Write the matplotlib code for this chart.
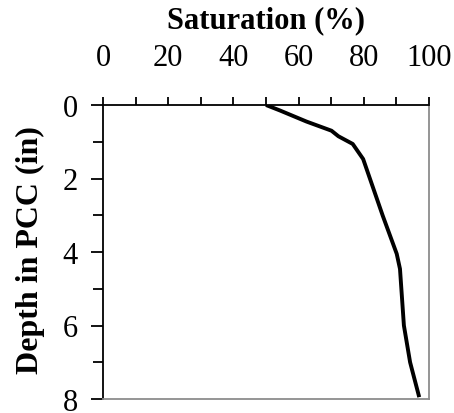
import numpy as np
import matplotlib.pyplot as plt
from matplotlib.ticker import MultipleLocator

# Dados
saturation = [50.0, 54.3, 62.4, 70.1, 72.2, 76.6, 79.8, 85.8, 90.1, 91.1, 92.3, 94.2, 97.0]
depth = [0.0, 0.15, 0.45, 0.70, 0.85, 1.06, 1.47, 3.01, 4.05, 4.46, 6.0, 7.0, 7.95]

plt.rcParams['font.family'] = ['Liberation Serif', 'DejaVu Serif']

fig = plt.figure(figsize=(4.54, 4.14), dpi=100)
ax = fig.add_axes([103 / 454, 1 - 400 / 414, 326 / 454, 294 / 414])

ax.plot(saturation, depth, color='black', linewidth=2.8, solid_capstyle='butt')

ax.set_xlim(0, 100)
ax.set_ylim(8, 0)
ax.xaxis.set_major_locator(MultipleLocator(20))
ax.xaxis.set_minor_locator(MultipleLocator(10))
ax.yaxis.set_major_locator(MultipleLocator(2))
ax.yaxis.set_minor_locator(MultipleLocator(1))

ax.xaxis.tick_top()
ax.xaxis.set_label_position('top')
ax.tick_params(axis='x', which='both', direction='out', length=6, width=1.3,
               labelsize=22, pad=18, bottom=False)
ax.tick_params(axis='y', which='major', direction='out', length=9, width=1.3,
               labelsize=22, pad=9, right=False)
ax.tick_params(axis='y', which='minor', direction='out', length=7, width=1.3,
               right=False)

ax.set_xlabel('Saturation (%)', fontsize=22, fontweight='bold', labelpad=11)
ax.set_ylabel('Depth in PCC (in)', fontsize=23, fontweight='bold')
ax.yaxis.set_label_coords(-0.178, 0.51)

for side in ['left', 'top']:
    ax.spines[side].set_color('black')
    ax.spines[side].set_linewidth(1.3)
for side in ['right', 'bottom']:
    ax.spines[side].set_color('#8c8c8c')
    ax.spines[side].set_linewidth(1.3)

fig.savefig('out.png', dpi=100)
